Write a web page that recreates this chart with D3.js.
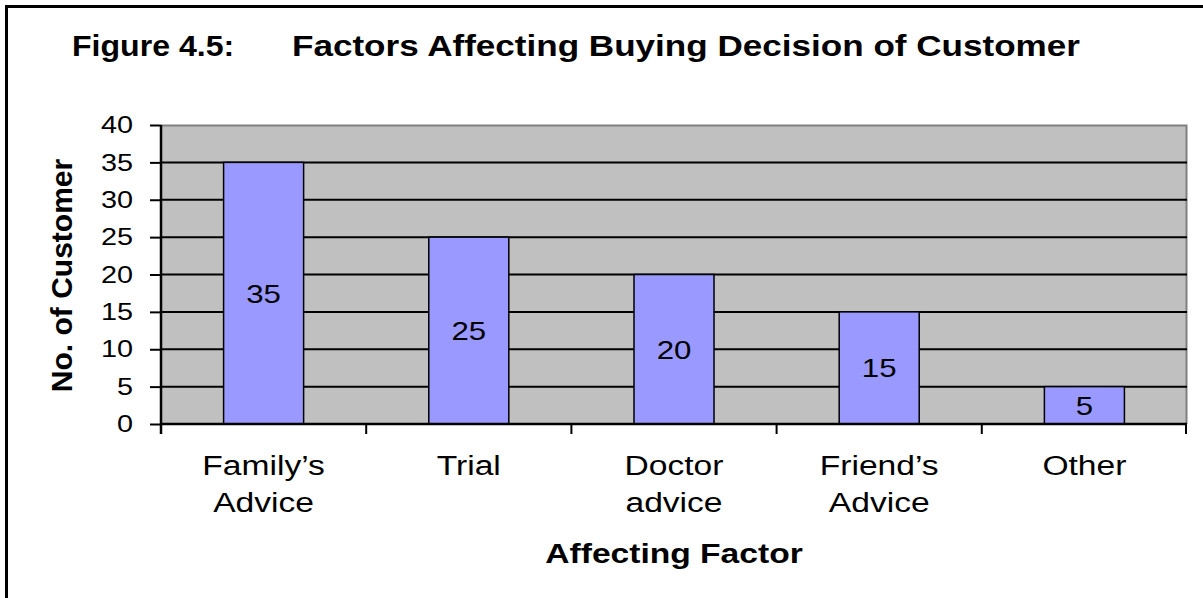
<!DOCTYPE html>
<meta charset="utf-8">
<html>
<head>
<style>
  body { margin: 0; background: #fff; }
  text { font-family: "Liberation Sans", Arial, sans-serif; fill: #000; }
</style>
</head>
<body>
<script src="https://d3js.org/d3.v7.min.js"></script>
<script>

// data
var categories = [["Family\u2019s", "Advice"], ["Trial"], ["Doctor", "advice"], ["Friend\u2019s", "Advice"], ["Other"]];
var values = [35, 25, 20, 15, 5];
var yTicks = [0, 5, 10, 15, 20, 25, 30, 35, 40];

var W = 1203, H = 598;
var margin = {top: 125, right: 16, bottom: 174, left: 161};
var width = W - margin.left - margin.right,
    height = H - margin.top - margin.bottom;
var sx = 1.2; // the original text looks stretched sideways

var svg = d3.select("body").append("svg")
  .attr("width", W)
  .attr("height", H);

// outer frame
svg.append("rect")
  .attr("x", 6.5).attr("y", 6.5)
  .attr("width", W + 20).attr("height", H + 20)
  .attr("fill", "none")
  .attr("stroke", "#000")
  .attr("stroke-width", 3);

// title
svg.append("text")
  .attr("transform", "translate(72,56) scale(1.07,1)")
  .style("font-size", "30px").style("font-weight", "bold")
  .text("Figure 4.5:");
svg.append("text")
  .attr("transform", "translate(292,56) scale(1.17,1)")
  .style("font-size", "30px").style("font-weight", "bold")
  .text("Factors Affecting Buying Decision of Customer");

var g = svg.append("g")
  .attr("transform", "translate(" + margin.left + "," + margin.top + ")");

var x = d3.scaleBand()
  .domain(d3.range(values.length))
  .range([0, width])
  .paddingInner(0.61)
  .paddingOuter(0.305);

var y = d3.scaleLinear()
  .domain([0, 40])
  .range([height, 0]);

// plot area
g.append("rect")
  .attr("width", width).attr("height", height)
  .attr("fill", "#c0c0c0");
g.append("path")
  .attr("d", "M0,0.5H" + (width - 0.5) + "V" + height)
  .attr("fill", "none")
  .attr("stroke", "#808080")
  .attr("stroke-width", 2);

// gridlines
g.append("g")
  .selectAll("line")
  .data(yTicks.filter(function(d) { return d > 0 && d < 40; }))
  .enter().append("line")
  .attr("x1", 0).attr("x2", width)
  .attr("y1", function(d) { return y(d); })
  .attr("y2", function(d) { return y(d); })
  .attr("stroke", "#000")
  .attr("stroke-width", 2);

// bars
g.selectAll(".bar")
  .data(values)
  .enter().append("rect")
  .attr("class", "bar")
  .attr("x", function(d, i) { return x(i); })
  .attr("y", function(d) { return y(d); })
  .attr("width", x.bandwidth())
  .attr("height", function(d) { return height - y(d); })
  .attr("fill", "#9999ff")
  .attr("stroke", "#000")
  .attr("stroke-width", 1.5);

// value labels, centred in the bar
g.selectAll(".val")
  .data(values)
  .enter().append("text")
  .attr("class", "val")
  .attr("transform", function(d, i) {
    return "translate(" + (x(i) + x.bandwidth() / 2) + "," + ((y(d) + height) / 2) + ") scale(" + sx + ",1)";
  })
  .attr("text-anchor", "middle")
  .attr("dy", "0.36em")
  .style("font-size", "26px")
  .text(function(d) { return d; });

// y axis
var yAxis = g.append("g")
  .call(d3.axisLeft(y).tickValues(yTicks).tickSize(11).tickPadding(5));
yAxis.select(".domain").attr("stroke", "#000").attr("stroke-width", 2.5)
  .attr("d", "M0," + (height + 10) + "V0");
yAxis.selectAll(".tick line").attr("stroke", "#000").attr("stroke-width", 2);
yAxis.selectAll(".tick text")
  .attr("font-family", null).attr("font-size", null)
  .style("font-size", "24px")
  .attr("transform", "scale(" + sx + ",1)")
  .attr("x", -28 / sx);

// x axis: ticks at category boundaries
var step = x.step();
var xBounds = d3.range(values.length + 1).map(function(i) { return i * step; });
g.append("line")
  .attr("x1", 0).attr("x2", width)
  .attr("y1", height).attr("y2", height)
  .attr("stroke", "#000").attr("stroke-width", 2.5);
g.selectAll(".xtick")
  .data(xBounds.slice(1))
  .enter().append("line")
  .attr("class", "xtick")
  .attr("x1", function(d) { return Math.min(d, width - 1); })
  .attr("x2", function(d) { return Math.min(d, width - 1); })
  .attr("y1", height).attr("y2", height + 10)
  .attr("stroke", "#000").attr("stroke-width", 2);

// category labels
var cat = g.selectAll(".cat")
  .data(categories)
  .enter().append("text")
  .attr("class", "cat")
  .attr("transform", function(d, i) {
    return "translate(" + (x(i) + x.bandwidth() / 2) + "," + (height + 51) + ") scale(" + sx + ",1)";
  })
  .attr("text-anchor", "middle")
  .style("font-size", "28px");
cat.selectAll("tspan")
  .data(function(d) { return d; })
  .enter().append("tspan")
  .attr("x", 0)
  .attr("y", function(d, i) { return i * 37; })
  .text(function(d) { return d; });

// axis titles
g.append("text")
  .attr("transform", "translate(" + (width / 2) + "," + (height + 139) + ") scale(" + sx + ",1)")
  .attr("text-anchor", "middle")
  .style("font-size", "28px").style("font-weight", "bold")
  .text("Affecting Factor");

g.append("text")
  .attr("transform", "translate(" + (72 - margin.left) + "," + (height / 2 + 1) + ") rotate(-90)")
  .attr("text-anchor", "middle")
  .style("font-size", "30px").style("font-weight", "bold")
  .text("No. of Customer");

</script>
</body>
</html>
